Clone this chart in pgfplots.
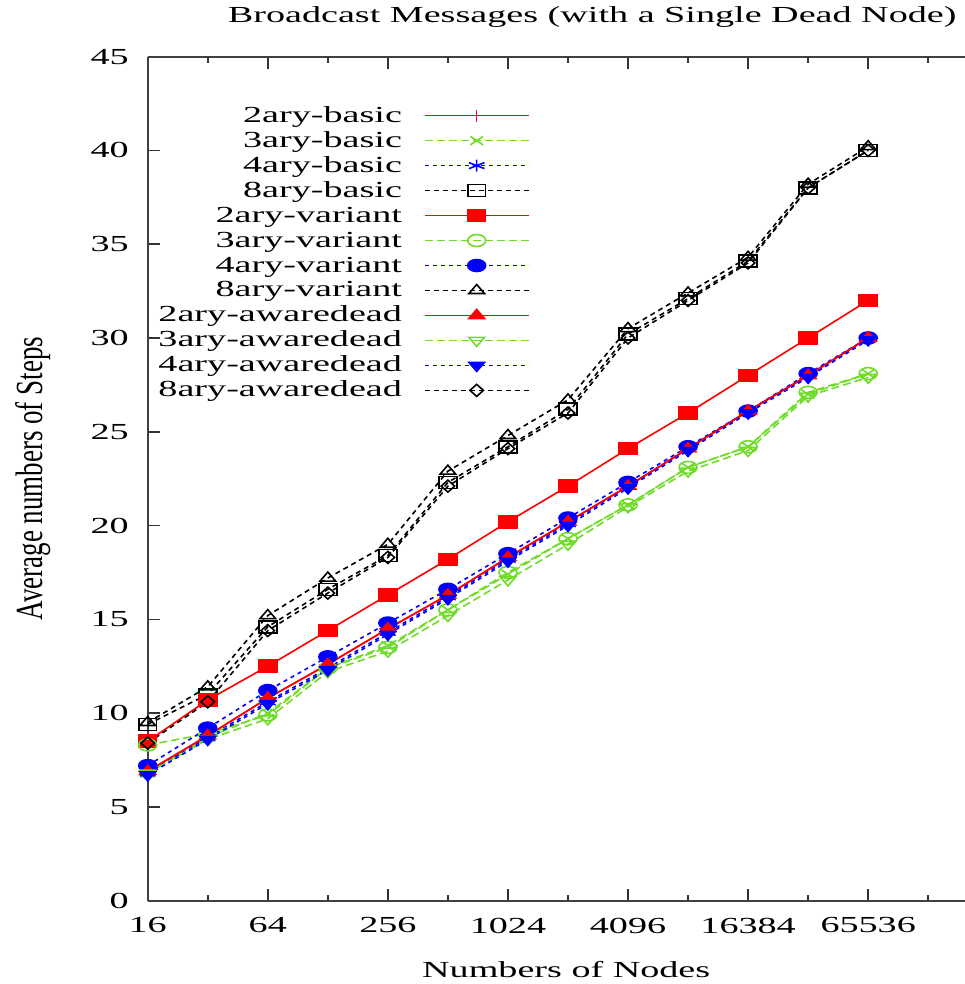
\documentclass[border=0pt]{standalone}
\usepackage{fontspec}
\setmainfont[FakeStretch=1.66]{Liberation Serif}
\newfontfamily\plainserif{Liberation Serif}
\usepackage{pgfplots}
\usepackage{pgfplotstable}
\pgfplotsset{compat=1.18}

\definecolor{gpred}{RGB}{255,0,0}
\definecolor{gpgreen}{RGB}{110,220,40}
\definecolor{gpblue}{RGB}{0,0,255}

% average steps, one column per curve
\pgfplotstableread{
n     b2   b3   b4   b8   v2   v3   v4   v8   a2   a3   a4   a8
16    6.9  6.8  6.8  9.4  8.5  8.3  7.2  9.5  6.9  6.8  6.7  8.4
32    8.8  8.7  8.7  11.0 10.7 8.9  9.2  11.4 8.8  8.6  8.6  10.6
64    10.8 10.0 10.6 14.6 12.5 9.9  11.2 15.2 10.8 9.7  10.5 14.4
128   12.6 12.4 12.4 16.6 14.4 12.4 13.0 17.2 12.6 12.2 12.3 16.4
256   14.5 13.6 14.3 18.4 16.3 13.5 14.8 19.0 14.5 13.3 14.2 18.3
512   16.3 15.5 16.2 22.3 18.2 15.5 16.6 22.9 16.3 15.2 16.1 22.1
1024  18.3 17.4 18.2 24.2 20.2 17.5 18.5 24.8 18.3 17.1 18.1 24.1
2048  20.2 19.3 20.1 26.2 22.1 19.3 20.4 26.7 20.2 19.0 20.0 26.0
4096  22.1 21.1 22.1 30.2 24.1 21.1 22.3 30.5 22.1 21.0 22.0 30.0
8192  24.1 23.1 24.1 32.1 26.0 23.1 24.2 32.4 24.1 22.9 24.0 32.0
16384 26.1 24.2 26.1 34.1 28.0 24.2 26.1 34.3 26.1 24.0 26.0 34.0
32768 28.0 27.0 28.0 38.0 30.0 27.1 28.1 38.2 28.0 26.9 27.9 38.0
65536 30.0 28.1 30.0 40.0 32.0 28.1 30.0 40.2 30.0 27.9 29.9 40.0
}\steps

\pgfplotsset{
  redl/.style={color=gpred, solid, line width=0.8pt},
  greenl/.style={color=gpgreen, dash pattern=on 4pt off 2pt, line width=0.8pt},
  bluel/.style={color=gpblue, dash pattern=on 2pt off 2pt, line width=0.8pt},
  blackl/.style={color=black, dash pattern=on 2.5pt off 2pt, line width=0.8pt},
}

\begin{document}
\begin{tikzpicture}[trim axis right]
\begin{axis}[
  scale only axis,
  width=409pt, height=422.5pt,
  xmode=log, log basis x=2,
  xmin=16, xmax=200000,
  ymin=0, ymax=45,
  axis x line*=box, axis y line*=left,
  axis line style={line width=1pt, color=black!75, -},
  tick align=inside,
  xtick pos=both, ytick pos=left,
  xtick={16,64,256,1024,4096,16384,65536},
  xticklabels={16,64,256,1024,4096,16384,65536},
  extra x ticks={32,128,512,2048,8192,32768,131072},
  extra x tick labels={},
  extra x tick style={major tick length=3pt},
  ytick={0,5,...,45},
  major tick length=6pt,
  tick style={line width=0.8pt, color=black!80},
  /pgf/number format/assume math mode=true,
  every tick label/.append style={font=\fontsize{11.5}{13}\selectfont},
  xticklabel style={yshift=-5pt},
  yticklabel style={xshift=-6pt},
  title={Broadcast Messages (with a Single Dead Node)},
  title style={font=\fontsize{11.5}{13}\selectfont, yshift=5pt, xshift=18pt},
  xlabel={Numbers of Nodes},
  ylabel={Average numbers of Steps},
  xlabel style={font=\fontsize{11.5}{13}\selectfont, yshift=-7pt, xshift=5pt},
  ylabel style={font=\plainserif\fontsize{13.5}{15}\selectfont,
    yshift=9pt, yscale=1.42, inner ysep=5.3pt},
  legend plot pos=right,
  legend cell align=right,
  legend image code/.code={
    \draw[mark repeat=2, mark phase=2, #1]
      plot coordinates {(0pt,0pt) (26pt,0pt) (52pt,0pt)};
  },
  legend style={
    draw=none, fill=none,
    at={(0.475,0.95)}, anchor=north east,
    font=\fontsize{11.5}{12.5}\selectfont,
    column sep=10pt, row sep=0pt,
    nodes={inner sep=1pt, text height=8.5pt, text depth=2pt},
  },
  mark size=3pt,
]
\addplot[redl, mark=+, mark options={xscale=1.5, solid}] table[x=n, y=b2] {\steps};
\addlegendentry{2ary-basic}
\addplot[greenl, mark=x, mark options={xscale=1.5, solid}] table[x=n, y=b3] {\steps};
\addlegendentry{3ary-basic}
\addplot[bluel, mark=asterisk, mark options={xscale=1.5, solid}] table[x=n, y=b4] {\steps};
\addlegendentry{4ary-basic}
\addplot[blackl, mark=square, mark options={xscale=1.5, solid}] table[x=n, y=b8] {\steps};
\addlegendentry{8ary-basic}
\addplot[redl, mark=square*, mark options={xscale=1.5, solid}] table[x=n, y=v2] {\steps};
\addlegendentry{2ary-variant}
\addplot[greenl, mark=o, mark options={xscale=1.5, solid}] table[x=n, y=v3] {\steps};
\addlegendentry{3ary-variant}
\addplot[bluel, mark=*, mark options={xscale=1.5, solid}] table[x=n, y=v4] {\steps};
\addlegendentry{4ary-variant}
\addplot[blackl, mark=triangle, mark options={xscale=1.5, solid}] table[x=n, y=v8] {\steps};
\addlegendentry{8ary-variant}
\addplot[redl, mark=triangle*, mark options={xscale=1.5, solid}] table[x=n, y=a2] {\steps};
\addlegendentry{2ary-awaredead}
\addplot[greenl, mark=triangle, mark options={xscale=1.5, rotate=180, solid}] table[x=n, y=a3] {\steps};
\addlegendentry{3ary-awaredead}
\addplot[bluel, mark=triangle*, mark options={xscale=1.5, rotate=180, solid}] table[x=n, y=a4] {\steps};
\addlegendentry{4ary-awaredead}
\addplot[blackl, mark=diamond, mark options={xscale=1.5, solid}] table[x=n, y=a8] {\steps};
\addlegendentry{8ary-awaredead}
\end{axis}
\end{tikzpicture}
\end{document}
